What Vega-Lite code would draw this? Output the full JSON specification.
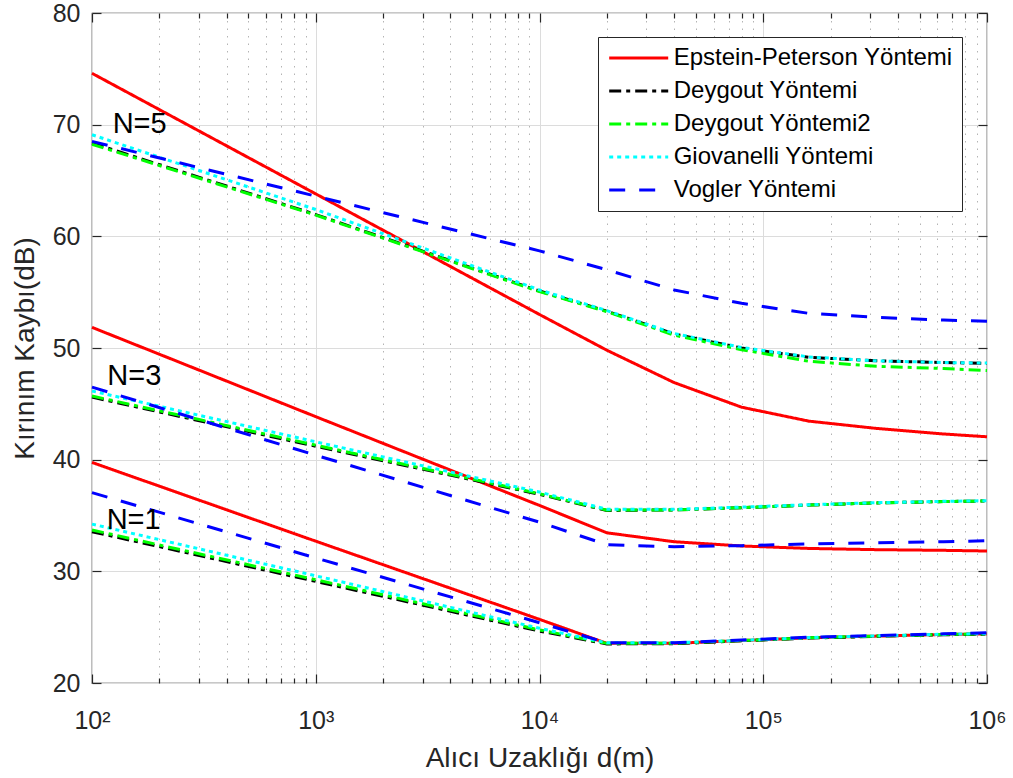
{
  "$schema": "https://vega.github.io/schema/vega-lite/v6.json",
  "width": 895,
  "height": 670,
  "autosize": "none",
  "padding": {"left": 92, "top": 13, "right": 26, "bottom": 95},
  "background": "white",
  "config": {
    "font": "Liberation Sans",
    "view": {"stroke": "#262626", "strokeWidth": 1.2},
    "legend": {
      "symbolType": "M-3,0H3",
      "symbolSize": 387,
      "symbolStrokeWidth": 3,
      "symbolOffset": 19.7,
      "labelOffset": 23,
      "labelFont": "Liberation Sans",
      "labelFontSize": 24,
      "labelColor": "black",
      "labelLimit": 500,
      "rowPadding": 9,
      "padding": 9,
      "strokeColor": "#262626",
      "fillColor": "white"
    }
  },
  "layer": [
    {
      "data": {
        "values": [
          {"m": "Epstein-Peterson Yöntemi", "n": 5, "d": 100, "v": 74.6},
          {"m": "Epstein-Peterson Yöntemi", "n": 5, "d": 1000, "v": 63.8},
          {"m": "Epstein-Peterson Yöntemi", "n": 5, "d": 10000, "v": 53.0},
          {"m": "Epstein-Peterson Yöntemi", "n": 5, "d": 20000, "v": 49.8},
          {"m": "Epstein-Peterson Yöntemi", "n": 5, "d": 40000, "v": 46.9},
          {"m": "Epstein-Peterson Yöntemi", "n": 5, "d": 80000, "v": 44.7},
          {"m": "Epstein-Peterson Yöntemi", "n": 5, "d": 160000, "v": 43.45},
          {"m": "Epstein-Peterson Yöntemi", "n": 5, "d": 320000, "v": 42.8},
          {"m": "Epstein-Peterson Yöntemi", "n": 5, "d": 640000, "v": 42.3},
          {"m": "Epstein-Peterson Yöntemi", "n": 5, "d": 1000000, "v": 42.05},
          {"m": "Epstein-Peterson Yöntemi", "n": 3, "d": 100, "v": 51.85},
          {"m": "Epstein-Peterson Yöntemi", "n": 3, "d": 1000, "v": 43.85},
          {"m": "Epstein-Peterson Yöntemi", "n": 3, "d": 10000, "v": 35.9},
          {"m": "Epstein-Peterson Yöntemi", "n": 3, "d": 20000, "v": 33.45},
          {"m": "Epstein-Peterson Yöntemi", "n": 3, "d": 40000, "v": 32.65},
          {"m": "Epstein-Peterson Yöntemi", "n": 3, "d": 80000, "v": 32.27},
          {"m": "Epstein-Peterson Yöntemi", "n": 3, "d": 160000, "v": 32.05},
          {"m": "Epstein-Peterson Yöntemi", "n": 3, "d": 320000, "v": 31.94},
          {"m": "Epstein-Peterson Yöntemi", "n": 3, "d": 640000, "v": 31.88},
          {"m": "Epstein-Peterson Yöntemi", "n": 3, "d": 1000000, "v": 31.82},
          {"m": "Epstein-Peterson Yöntemi", "n": 1, "d": 100, "v": 39.75},
          {"m": "Epstein-Peterson Yöntemi", "n": 1, "d": 1000, "v": 32.7},
          {"m": "Epstein-Peterson Yöntemi", "n": 1, "d": 10000, "v": 25.7},
          {"m": "Epstein-Peterson Yöntemi", "n": 1, "d": 20000, "v": 23.55},
          {"m": "Epstein-Peterson Yöntemi", "n": 1, "d": 40000, "v": 23.55},
          {"m": "Epstein-Peterson Yöntemi", "n": 1, "d": 80000, "v": 23.8},
          {"m": "Epstein-Peterson Yöntemi", "n": 1, "d": 160000, "v": 24.05},
          {"m": "Epstein-Peterson Yöntemi", "n": 1, "d": 320000, "v": 24.2},
          {"m": "Epstein-Peterson Yöntemi", "n": 1, "d": 640000, "v": 24.35},
          {"m": "Epstein-Peterson Yöntemi", "n": 1, "d": 1000000, "v": 24.4},
          {"m": "Deygout Yöntemi", "n": 5, "d": 100, "v": 68.35},
          {"m": "Deygout Yöntemi", "n": 5, "d": 1000, "v": 61.95},
          {"m": "Deygout Yöntemi", "n": 5, "d": 10000, "v": 55.1},
          {"m": "Deygout Yöntemi", "n": 5, "d": 20000, "v": 53.3},
          {"m": "Deygout Yöntemi", "n": 5, "d": 40000, "v": 51.25},
          {"m": "Deygout Yöntemi", "n": 5, "d": 80000, "v": 50.0},
          {"m": "Deygout Yöntemi", "n": 5, "d": 160000, "v": 49.17},
          {"m": "Deygout Yöntemi", "n": 5, "d": 320000, "v": 48.85},
          {"m": "Deygout Yöntemi", "n": 5, "d": 640000, "v": 48.7},
          {"m": "Deygout Yöntemi", "n": 5, "d": 1000000, "v": 48.63},
          {"m": "Deygout Yöntemi", "n": 3, "d": 100, "v": 45.6},
          {"m": "Deygout Yöntemi", "n": 3, "d": 1000, "v": 41.2},
          {"m": "Deygout Yöntemi", "n": 3, "d": 10000, "v": 36.9},
          {"m": "Deygout Yöntemi", "n": 3, "d": 20000, "v": 35.45},
          {"m": "Deygout Yöntemi", "n": 3, "d": 40000, "v": 35.5},
          {"m": "Deygout Yöntemi", "n": 3, "d": 80000, "v": 35.7},
          {"m": "Deygout Yöntemi", "n": 3, "d": 160000, "v": 35.93},
          {"m": "Deygout Yöntemi", "n": 3, "d": 320000, "v": 36.13},
          {"m": "Deygout Yöntemi", "n": 3, "d": 640000, "v": 36.25},
          {"m": "Deygout Yöntemi", "n": 3, "d": 1000000, "v": 36.3},
          {"m": "Deygout Yöntemi", "n": 1, "d": 100, "v": 33.55},
          {"m": "Deygout Yöntemi", "n": 1, "d": 1000, "v": 29.1},
          {"m": "Deygout Yöntemi", "n": 1, "d": 10000, "v": 24.65},
          {"m": "Deygout Yöntemi", "n": 1, "d": 20000, "v": 23.5},
          {"m": "Deygout Yöntemi", "n": 1, "d": 40000, "v": 23.52},
          {"m": "Deygout Yöntemi", "n": 1, "d": 80000, "v": 23.78},
          {"m": "Deygout Yöntemi", "n": 1, "d": 160000, "v": 24.02},
          {"m": "Deygout Yöntemi", "n": 1, "d": 320000, "v": 24.18},
          {"m": "Deygout Yöntemi", "n": 1, "d": 640000, "v": 24.32},
          {"m": "Deygout Yöntemi", "n": 1, "d": 1000000, "v": 24.38},
          {"m": "Deygout Yöntemi2", "n": 5, "d": 100, "v": 68.25},
          {"m": "Deygout Yöntemi2", "n": 5, "d": 1000, "v": 61.9},
          {"m": "Deygout Yöntemi2", "n": 5, "d": 10000, "v": 55.05},
          {"m": "Deygout Yöntemi2", "n": 5, "d": 20000, "v": 53.25},
          {"m": "Deygout Yöntemi2", "n": 5, "d": 40000, "v": 51.15},
          {"m": "Deygout Yöntemi2", "n": 5, "d": 80000, "v": 49.85},
          {"m": "Deygout Yöntemi2", "n": 5, "d": 160000, "v": 48.81},
          {"m": "Deygout Yöntemi2", "n": 5, "d": 320000, "v": 48.36},
          {"m": "Deygout Yöntemi2", "n": 5, "d": 640000, "v": 48.16},
          {"m": "Deygout Yöntemi2", "n": 5, "d": 1000000, "v": 47.98},
          {"m": "Deygout Yöntemi2", "n": 3, "d": 100, "v": 45.7},
          {"m": "Deygout Yöntemi2", "n": 3, "d": 1000, "v": 41.3},
          {"m": "Deygout Yöntemi2", "n": 3, "d": 10000, "v": 36.95},
          {"m": "Deygout Yöntemi2", "n": 3, "d": 20000, "v": 35.48},
          {"m": "Deygout Yöntemi2", "n": 3, "d": 40000, "v": 35.5},
          {"m": "Deygout Yöntemi2", "n": 3, "d": 80000, "v": 35.7},
          {"m": "Deygout Yöntemi2", "n": 3, "d": 160000, "v": 35.93},
          {"m": "Deygout Yöntemi2", "n": 3, "d": 320000, "v": 36.13},
          {"m": "Deygout Yöntemi2", "n": 3, "d": 640000, "v": 36.25},
          {"m": "Deygout Yöntemi2", "n": 3, "d": 1000000, "v": 36.3},
          {"m": "Deygout Yöntemi2", "n": 1, "d": 100, "v": 33.7},
          {"m": "Deygout Yöntemi2", "n": 1, "d": 1000, "v": 29.25},
          {"m": "Deygout Yöntemi2", "n": 1, "d": 10000, "v": 24.75},
          {"m": "Deygout Yöntemi2", "n": 1, "d": 20000, "v": 23.55},
          {"m": "Deygout Yöntemi2", "n": 1, "d": 40000, "v": 23.57},
          {"m": "Deygout Yöntemi2", "n": 1, "d": 80000, "v": 23.8},
          {"m": "Deygout Yöntemi2", "n": 1, "d": 160000, "v": 24.05},
          {"m": "Deygout Yöntemi2", "n": 1, "d": 320000, "v": 24.2},
          {"m": "Deygout Yöntemi2", "n": 1, "d": 640000, "v": 24.35},
          {"m": "Deygout Yöntemi2", "n": 1, "d": 1000000, "v": 24.4},
          {"m": "Giovanelli Yöntemi", "n": 5, "d": 100, "v": 69.1},
          {"m": "Giovanelli Yöntemi", "n": 5, "d": 1000, "v": 62.4},
          {"m": "Giovanelli Yöntemi", "n": 5, "d": 10000, "v": 55.2},
          {"m": "Giovanelli Yöntemi", "n": 5, "d": 20000, "v": 53.35},
          {"m": "Giovanelli Yöntemi", "n": 5, "d": 40000, "v": 51.3},
          {"m": "Giovanelli Yöntemi", "n": 5, "d": 80000, "v": 50.05},
          {"m": "Giovanelli Yöntemi", "n": 5, "d": 160000, "v": 49.2},
          {"m": "Giovanelli Yöntemi", "n": 5, "d": 320000, "v": 48.85},
          {"m": "Giovanelli Yöntemi", "n": 5, "d": 640000, "v": 48.7},
          {"m": "Giovanelli Yöntemi", "n": 5, "d": 1000000, "v": 48.65},
          {"m": "Giovanelli Yöntemi", "n": 3, "d": 100, "v": 46.15},
          {"m": "Giovanelli Yöntemi", "n": 3, "d": 1000, "v": 41.6},
          {"m": "Giovanelli Yöntemi", "n": 3, "d": 10000, "v": 37.1},
          {"m": "Giovanelli Yöntemi", "n": 3, "d": 20000, "v": 35.55},
          {"m": "Giovanelli Yöntemi", "n": 3, "d": 40000, "v": 35.55},
          {"m": "Giovanelli Yöntemi", "n": 3, "d": 80000, "v": 35.75},
          {"m": "Giovanelli Yöntemi", "n": 3, "d": 160000, "v": 35.97},
          {"m": "Giovanelli Yöntemi", "n": 3, "d": 320000, "v": 36.15},
          {"m": "Giovanelli Yöntemi", "n": 3, "d": 640000, "v": 36.27},
          {"m": "Giovanelli Yöntemi", "n": 3, "d": 1000000, "v": 36.32},
          {"m": "Giovanelli Yöntemi", "n": 1, "d": 100, "v": 34.23},
          {"m": "Giovanelli Yöntemi", "n": 1, "d": 1000, "v": 29.6},
          {"m": "Giovanelli Yöntemi", "n": 1, "d": 10000, "v": 24.9},
          {"m": "Giovanelli Yöntemi", "n": 1, "d": 20000, "v": 23.6},
          {"m": "Giovanelli Yöntemi", "n": 1, "d": 40000, "v": 23.6},
          {"m": "Giovanelli Yöntemi", "n": 1, "d": 80000, "v": 23.82},
          {"m": "Giovanelli Yöntemi", "n": 1, "d": 160000, "v": 24.07},
          {"m": "Giovanelli Yöntemi", "n": 1, "d": 320000, "v": 24.22},
          {"m": "Giovanelli Yöntemi", "n": 1, "d": 640000, "v": 24.37},
          {"m": "Giovanelli Yöntemi", "n": 1, "d": 1000000, "v": 24.42},
          {"m": "Vogler Yöntemi", "n": 5, "d": 100, "v": 68.5},
          {"m": "Vogler Yöntemi", "n": 5, "d": 1000, "v": 63.6},
          {"m": "Vogler Yöntemi", "n": 5, "d": 10000, "v": 58.7},
          {"m": "Vogler Yöntemi", "n": 5, "d": 20000, "v": 57.0},
          {"m": "Vogler Yöntemi", "n": 5, "d": 40000, "v": 55.2},
          {"m": "Vogler Yöntemi", "n": 5, "d": 80000, "v": 54.0},
          {"m": "Vogler Yöntemi", "n": 5, "d": 160000, "v": 53.1},
          {"m": "Vogler Yöntemi", "n": 5, "d": 320000, "v": 52.75},
          {"m": "Vogler Yöntemi", "n": 5, "d": 640000, "v": 52.5},
          {"m": "Vogler Yöntemi", "n": 5, "d": 1000000, "v": 52.4},
          {"m": "Vogler Yöntemi", "n": 3, "d": 100, "v": 46.5},
          {"m": "Vogler Yöntemi", "n": 3, "d": 1000, "v": 40.4},
          {"m": "Vogler Yöntemi", "n": 3, "d": 10000, "v": 34.4},
          {"m": "Vogler Yöntemi", "n": 3, "d": 20000, "v": 32.38},
          {"m": "Vogler Yöntemi", "n": 3, "d": 40000, "v": 32.2},
          {"m": "Vogler Yöntemi", "n": 3, "d": 80000, "v": 32.3},
          {"m": "Vogler Yöntemi", "n": 3, "d": 160000, "v": 32.45},
          {"m": "Vogler Yöntemi", "n": 3, "d": 320000, "v": 32.56},
          {"m": "Vogler Yöntemi", "n": 3, "d": 640000, "v": 32.65},
          {"m": "Vogler Yöntemi", "n": 3, "d": 1000000, "v": 32.74},
          {"m": "Vogler Yöntemi", "n": 1, "d": 100, "v": 37.05},
          {"m": "Vogler Yöntemi", "n": 1, "d": 1000, "v": 31.2},
          {"m": "Vogler Yöntemi", "n": 1, "d": 10000, "v": 25.4},
          {"m": "Vogler Yöntemi", "n": 1, "d": 20000, "v": 23.6},
          {"m": "Vogler Yöntemi", "n": 1, "d": 40000, "v": 23.6},
          {"m": "Vogler Yöntemi", "n": 1, "d": 80000, "v": 23.85},
          {"m": "Vogler Yöntemi", "n": 1, "d": 160000, "v": 24.1},
          {"m": "Vogler Yöntemi", "n": 1, "d": 320000, "v": 24.25},
          {"m": "Vogler Yöntemi", "n": 1, "d": 640000, "v": 24.4},
          {"m": "Vogler Yöntemi", "n": 1, "d": 1000000, "v": 24.5}
        ]
      },
      "mark": {"type": "line", "strokeWidth": 3},
      "encoding": {
        "x": {
          "field": "d",
          "type": "quantitative",
          "scale": {"type": "log", "domain": [100, 1000000]},
          "axis": {
            "orient": "bottom",
            "values": [100, 200, 300, 400, 500, 600, 700, 800, 900, 1000, 2000, 3000, 4000, 5000, 6000, 7000, 8000, 9000, 10000, 20000, 30000, 40000, 50000, 60000, 70000, 80000, 90000, 100000, 200000, 300000, 400000, 500000, 600000, 700000, 800000, 900000, 1000000],
            "labelExpr": "datum.value == 100 ? '10²' : datum.value == 1000 ? '10³' : datum.value == 10000 ? '10⁴' : datum.value == 100000 ? '10⁵' : datum.value == 1000000 ? '10⁶' : ''",
            "labelFont": "Liberation Sans",
            "labelFontSize": 25,
            "labelColor": "#262626",
            "labelPadding": 34,
            "labelFlush": false,
            "labelOverlap": false,
            "domain": false,
            "grid": true,
            "gridColor": {"condition": {"test": "indexof([100,1000,10000,100000,1000000], datum.value) >= 0", "value": "#dcdcdc"}, "value": "#b4b4b4"},
            "gridDash": {"condition": {"test": "indexof([100,1000,10000,100000,1000000], datum.value) >= 0", "value": []}, "value": [1.5, 6]},
            "gridWidth": 1,
            "ticks": true,
            "tickColor": "#262626",
            "tickWidth": 1.2,
            "tickSize": {"condition": {"test": "indexof([100,1000,10000,100000,1000000], datum.value) >= 0", "value": -9}, "value": -5},
            "title": "Alıcı Uzaklığı d(m)",
            "titleFont": "Liberation Sans",
            "titleFontSize": 28,
            "titleFontWeight": "normal",
            "titleColor": "#262626",
            "titlePadding": 7
          }
        },
        "y": {
          "field": "v",
          "type": "quantitative",
          "scale": {"domain": [20, 80], "nice": false, "zero": false},
          "axis": {
            "orient": "left",
            "values": [20, 30, 40, 50, 60, 70, 80],
            "labelFont": "Liberation Sans",
            "labelFontSize": 25,
            "labelColor": "#262626",
            "labelPadding": 21,
            "labelFlush": false,
            "labelOverlap": false,
            "domain": false,
            "grid": true,
            "gridColor": "#dcdcdc",
            "gridWidth": 1,
            "ticks": true,
            "tickColor": "#262626",
            "tickWidth": 1.2,
            "tickSize": -9,
            "title": "Kırınım Kaybı(dB)",
            "titleFont": "Liberation Sans",
            "titleFontSize": 28,
            "titleFontWeight": "normal",
            "titleColor": "#262626",
            "titlePadding": 13
          }
        },
        "color": {
          "field": "m",
          "type": "nominal",
          "scale": {
            "domain": ["Epstein-Peterson Yöntemi", "Deygout Yöntemi", "Deygout Yöntemi2", "Giovanelli Yöntemi", "Vogler Yöntemi"],
            "range": ["#ff0000", "#000000", "#00ff00", "#00ffff", "#0000ff"]
          },
          "legend": {"title": null, "orient": "none", "legendX": 506, "legendY": 24}
        },
        "strokeDash": {
          "field": "m",
          "type": "nominal",
          "scale": {
            "domain": ["Epstein-Peterson Yöntemi", "Deygout Yöntemi", "Deygout Yöntemi2", "Giovanelli Yöntemi", "Vogler Yöntemi"],
            "range": [[1, 0], [12, 5, 4, 5], [12, 5, 4, 5], [4, 4], [16, 14]]
          },
          "legend": {"title": null, "orient": "none", "legendX": 506, "legendY": 24}
        },
        "detail": {"field": "n", "type": "nominal"}
      }
    },
    {
      "data": {
        "values": [
          {"t": "N=5", "d": 123.7, "v": 70.1},
          {"t": "N=3", "d": 117, "v": 47.5},
          {"t": "N=1", "d": 116.3, "v": 34.64}
        ]
      },
      "mark": {"type": "text", "fontSize": 29, "font": "Liberation Sans", "align": "left", "baseline": "middle", "color": "black"},
      "encoding": {
        "x": {
          "field": "d",
          "type": "quantitative",
          "scale": {"type": "log", "domain": [100, 1000000]},
          "axis": {
            "orient": "top",
            "values": [100, 200, 300, 400, 500, 600, 700, 800, 900, 1000, 2000, 3000, 4000, 5000, 6000, 7000, 8000, 9000, 10000, 20000, 30000, 40000, 50000, 60000, 70000, 80000, 90000, 100000, 200000, 300000, 400000, 500000, 600000, 700000, 800000, 900000, 1000000],
            "labels": false,
            "domain": false,
            "grid": false,
            "ticks": true,
            "tickColor": "#262626",
            "tickWidth": 1.2,
            "tickSize": {"condition": {"test": "indexof([100,1000,10000,100000,1000000], datum.value) >= 0", "value": -9}, "value": -5},
            "title": null
          }
        },
        "y": {
          "field": "v",
          "type": "quantitative",
          "scale": {"domain": [20, 80], "nice": false, "zero": false},
          "axis": {
            "orient": "right",
            "values": [20, 30, 40, 50, 60, 70, 80],
            "labels": false,
            "domain": false,
            "grid": false,
            "ticks": true,
            "tickColor": "#262626",
            "tickWidth": 1.2,
            "tickSize": -9,
            "title": null
          }
        },
        "text": {"field": "t", "type": "nominal"}
      }
    }
  ],
  "resolve": {"axis": {"x": "independent", "y": "independent"}}
}
